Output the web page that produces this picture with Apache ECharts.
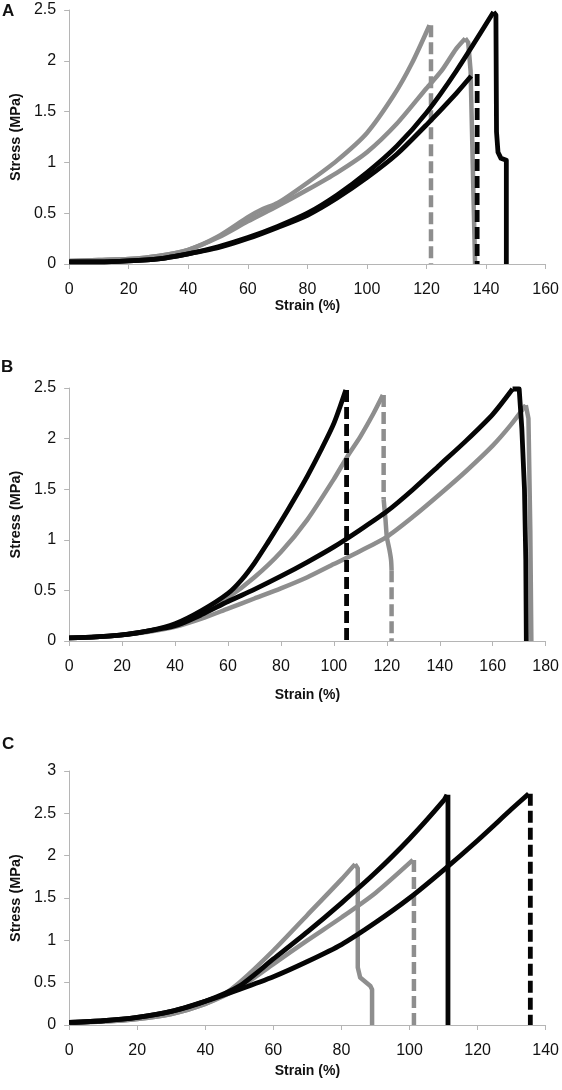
<!DOCTYPE html>
<html>
<head>
<meta charset="utf-8">
<script src="https://cdn.jsdelivr.net/npm/echarts@6/dist/echarts.min.js"></script>
<style>
html,body{margin:0;padding:0;background:#fff;}
#chart{width:562px;height:1090px;}
</style>
</head>
<body>
<div id="chart"></div>
<script>
// ---- Panel A data: [strain %, stress MPa] ----
const A_gray1 = [[0,0.03],[10,0.04],[20,0.05],[30,0.08],[40,0.14],[50,0.27],[60,0.46],[65,0.54],[70,0.6],[80,0.8],[90,1.02],[100,1.29],[109,1.66],[115,1.97],[121,2.35]];
const A_gray1_drop = [[121.5,2.35],[121.5,0]];
const A_gray2 = [[0,0.03],[10,0.04],[20,0.05],[30,0.08],[40,0.14],[50,0.26],[60,0.42],[70,0.57],[80,0.73],[90,0.9],[100,1.1],[110,1.38],[120,1.73],[125,1.9],[130,2.12],[133,2.22]];
const A_gray2_drop = [[133,2.22],[134,2.18],[134.8,1.9],[136.3,0]];
const A_black1 = [[0,0.02],[10,0.02],[20,0.03],[30,0.05],[40,0.1],[50,0.17],[60,0.26],[70,0.37],[80,0.5],[90,0.68],[100,0.9],[110,1.16],[120,1.49],[130,1.9],[142.5,2.48]];
const A_black1_drop = [[142.5,2.48],[143.3,2.45],[143.5,1.3],[144,1.1],[145,1.04],[146.8,1.02],[146.8,0]];
const A_black2 = [[0,0.02],[10,0.02],[20,0.03],[30,0.05],[40,0.1],[50,0.16],[60,0.25],[70,0.36],[80,0.48],[90,0.65],[100,0.85],[110,1.08],[120,1.37],[130,1.68],[135,1.85]];
const A_black2_drop = [[137,1.87],[137,0]];

// ---- Panel B data ----
const B_black1 = [[0,0.03],[10,0.04],[20,0.06],[30,0.1],[40,0.17],[50,0.3],[60,0.47],[65,0.6],[70,0.77],[75,0.97],[80,1.18],[85,1.4],[90,1.63],[95,1.88],[100,2.15],[104.5,2.48]];
const B_black1_drop = [[104.8,2.48],[104.8,0]];
const B_gray1 = [[0,0.03],[10,0.04],[20,0.06],[30,0.1],[40,0.16],[50,0.28],[60,0.43],[70,0.63],[80,0.88],[90,1.2],[100,1.6],[105,1.82],[110,2.02],[115,2.25],[118.5,2.43]];
const B_gray1_drop1 = [[118.8,2.43],[118.8,1.4]];
const B_gray1_drop2 = [[118.8,1.4],[119.5,1.2],[120,1.03],[121,0.9],[121.6,0.8],[121.8,0.7]];
const B_gray1_drop3 = [[121.8,0.7],[121.8,0]];
const B_black2 = [[0,0.03],[10,0.04],[20,0.06],[30,0.1],[40,0.15],[50,0.26],[60,0.39],[70,0.51],[80,0.64],[90,0.78],[100,0.93],[110,1.1],[120,1.28],[130,1.5],[140,1.74],[150,1.98],[160,2.24],[167.5,2.49]];
const B_black2_drop = [[167.5,2.49],[170,2.49],[171,2.1],[172,1.5],[172.5,0.8],[172.7,0]];
const B_gray2 = [[0,0.03],[10,0.04],[20,0.06],[30,0.09],[40,0.14],[50,0.22],[60,0.32],[70,0.42],[80,0.52],[90,0.63],[100,0.76],[110,0.89],[120,1.03],[130,1.23],[140,1.45],[150,1.68],[160,1.93],[167,2.14],[172.5,2.33]];
const B_gray2_drop = [[172.5,2.33],[173.5,2.2],[174.2,1.1],[174.6,0]];

// ---- Panel C data ----
const C_gray1 = [[0,0.03],[10,0.04],[20,0.07],[30,0.13],[40,0.25],[45,0.35],[50,0.5],[60,0.88],[70,1.3],[80,1.72],[84,1.9]];
const C_gray1_drop = [[84,1.9],[84.8,1.85],[84.8,0.68],[85.5,0.56],[88.5,0.46],[89,0.42],[89,0]];
const C_black1 = [[0,0.03],[10,0.05],[20,0.09],[30,0.16],[40,0.28],[50,0.46],[60,0.78],[70,1.1],[80,1.44],[90,1.8],[100,2.2],[110,2.65],[111,2.72]];
const C_black1_drop = [[111.3,2.72],[111.3,0]];
const C_gray2 = [[0,0.03],[10,0.04],[20,0.07],[30,0.13],[40,0.25],[50,0.44],[60,0.72],[70,1.0],[80,1.27],[90,1.56],[101,1.95]];
const C_gray2_drop = [[101.3,1.95],[101.3,0]];
const C_black2 = [[0,0.03],[10,0.05],[20,0.09],[30,0.16],[40,0.28],[50,0.42],[60,0.57],[70,0.75],[80,0.95],[90,1.21],[100,1.5],[110,1.83],[120,2.18],[130,2.55],[135,2.73]];
const C_black2_drop = [[135.5,2.73],[135.5,0]];

// ---- axes ----
const xMax = [160, 180, 140];
const yMax = [2.5, 2.5, 3];
const panelLabels = ['A', 'B', 'C'];
const xTitle = 'Strain (%)';
const yTitle = 'Stress (MPa)';

const BLACK = '#050505', GRAY = '#8e8e8e', AXIS = '#b5b5b5';
const FONT = 'Liberation Sans, Arial, sans-serif';
const DASH = [12, 5];

function ser(g, data, color, dashed, smooth) {
  return {
    type: 'line', xAxisIndex: g, yAxisIndex: g, data: data,
    showSymbol: false, symbol: 'none',
    smooth: smooth ? 0.25 : false,
    silent: true, animation: false,
    lineStyle: { color: color, width: color === BLACK ? 4.8 : 4.5, type: dashed ? DASH : 'solid', cap: 'butt', join: 'round' },
    z: color === BLACK ? 3 : 2
  };
}

const grids = [
  { left: 68, right: 16, top: 10, height: 254 },
  { left: 68, right: 16, top: 388, height: 253 },
  { left: 68, right: 16, top: 771, height: 254 }
];
const nameGaps = [32, 47, 39];

const xAxes = grids.map((g, i) => ({
  type: 'value', gridIndex: i, min: 0, max: xMax[i], interval: 20,
  name: xTitle, nameLocation: 'middle', nameGap: nameGaps[i],
  nameTextStyle: { fontFamily: FONT, fontWeight: 'bold', fontSize: 14, color: '#111' },
  axisLine: { show: true, lineStyle: { color: AXIS, width: 1 } },
  axisTick: { show: true, length: 5, lineStyle: { color: AXIS } },
  axisLabel: { fontFamily: FONT, fontSize: 16, color: '#111', margin: 18 },
  splitLine: { show: false }
}));
const yAxes = grids.map((g, i) => ({
  type: 'value', gridIndex: i, min: 0, max: yMax[i], interval: 0.5,
  name: yTitle, nameLocation: 'middle', nameGap: 44, nameRotate: 90,
  nameTextStyle: { fontFamily: FONT, fontWeight: 'bold', fontSize: 14.5, color: '#111' },
  axisLine: { show: true, lineStyle: { color: AXIS, width: 1 } },
  axisTick: { show: true, length: 5, lineStyle: { color: AXIS } },
  axisLabel: { fontFamily: FONT, fontSize: 16, color: '#111', margin: 13 },
  splitLine: { show: false }
}));

const series = [
  ser(0, A_gray1, GRAY, false, true), ser(0, A_gray1_drop, GRAY, true, false),
  ser(0, A_gray2, GRAY, false, true), ser(0, A_gray2_drop, GRAY, false, false),
  ser(0, A_black1, BLACK, false, true), ser(0, A_black1_drop, BLACK, false, false),
  ser(0, A_black2, BLACK, false, true), ser(0, A_black2_drop, BLACK, true, false),

  ser(1, B_gray1, GRAY, false, true), ser(1, B_gray1_drop1, GRAY, true, false),
  ser(1, B_gray1_drop2, GRAY, false, true), ser(1, B_gray1_drop3, GRAY, true, false),
  ser(1, B_gray2, GRAY, false, true), ser(1, B_gray2_drop, GRAY, false, false),
  ser(1, B_black1, BLACK, false, true), ser(1, B_black1_drop, BLACK, true, false),
  ser(1, B_black2, BLACK, false, true), ser(1, B_black2_drop, BLACK, false, false),

  ser(2, C_gray1, GRAY, false, true), ser(2, C_gray1_drop, GRAY, false, false),
  ser(2, C_gray2, GRAY, false, true), ser(2, C_gray2_drop, GRAY, true, false),
  ser(2, C_black1, BLACK, false, true), ser(2, C_black1_drop, BLACK, false, false),
  ser(2, C_black2, BLACK, false, true), ser(2, C_black2_drop, BLACK, true, false)
];

const labelPos = [[2, 3], [1, 359], [2, 736]];
const graphic = panelLabels.map((t, i) => ({
  type: 'text', left: labelPos[i][0], top: labelPos[i][1],
  style: { text: t, fontFamily: FONT, fontWeight: 'bold', fontSize: 17, fill: '#111' }
}));

const chart = echarts.init(document.getElementById('chart'), null, { renderer: 'canvas' });
chart.setOption({
  animation: false,
  backgroundColor: '#ffffff',
  grid: grids,
  xAxis: xAxes,
  yAxis: yAxes,
  series: series,
  graphic: graphic
});
</script>
</body>
</html>
